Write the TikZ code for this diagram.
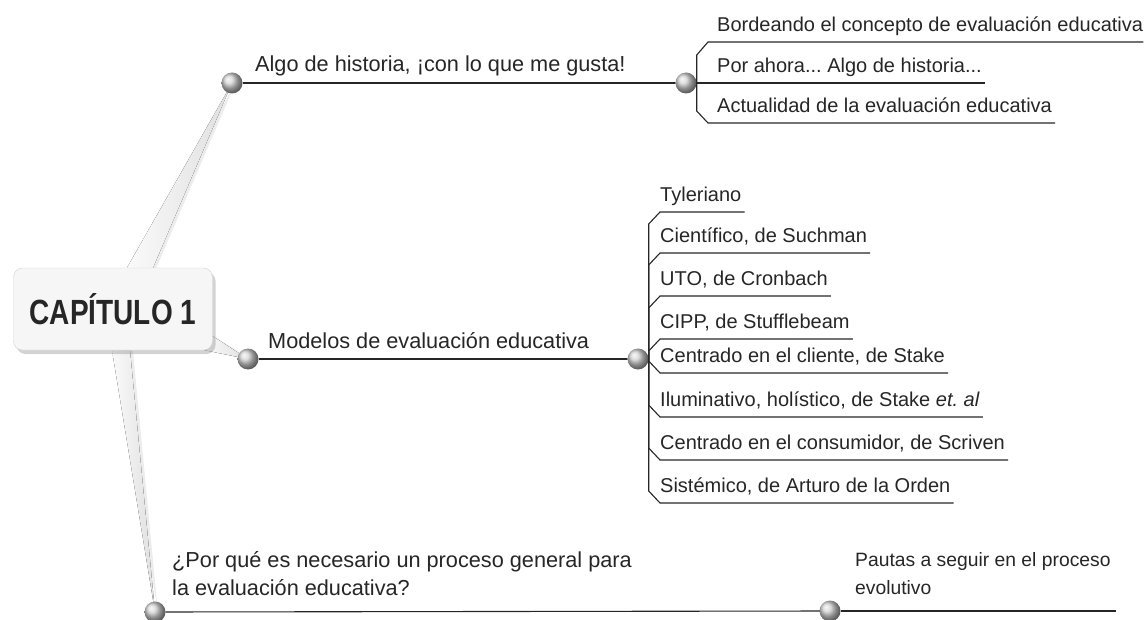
\documentclass[tikz,border=0pt]{standalone}
\usepackage{fontspec}
\setmainfont{Liberation Sans}
\newfontfamily\capfont[FakeStretch=0.8]{Liberation Sans}
\usetikzlibrary{calc,shadows,backgrounds}
\frenchspacing
\newcommand{\topicfont}{\fontsize{21.7}{27.5}\selectfont}
\newcommand{\leaffont}{\fontsize{20}{28}\selectfont}

\begin{document}
\begin{tikzpicture}[x=1pt,y=-1pt,
    ball/.style={circle, shading=ball, ball color=gray!35, minimum size=21pt, inner sep=0pt},
    topic/.style={font=\topicfont, text=black!85, anchor=base west, inner sep=0pt, align=left},
    leaf/.style={font=\leaffont, text=black!85, anchor=south west, inner xsep=0pt, inner ysep=0pt, text depth=10pt},
    stem/.style={left color=gray!4, right color=gray!25, drop shadow={opacity=0.15, shadow xshift=3pt, shadow yshift=-1pt}},
    link/.style={line width=1.1pt, black!85}]

    \useasboundingbox (0,0) rectangle (1147,620);

    \node[draw=gray!35, fill=gray!7, rounded corners=9pt, minimum width=199pt, minimum height=82pt,
          drop shadow={opacity=0.35, shadow xshift=3pt, shadow yshift=-4pt},
          text=black!85, font=\capfont\bfseries\fontsize{35}{40}\selectfont] (chap) at (113,309) {CAPÍTULO 1};

    \node[ball] (ballA) at (232,83) {};
    \node[ball] (ballB) at (686,83) {};
    \node[ball] (ballC) at (248,359) {};
    \node[ball] (ballD) at (638,359) {};
    \node[ball] (ballF) at (155,612) {};
    \node[ball] (ballE) at (830,611) {};

    \begin{scope}[on background layer]
        \fill[stem] ([xshift=14pt]chap.north) -- ([xshift=40pt]chap.north) -- (ballA.center) -- cycle;
        \fill[stem] ([yshift=14pt]chap.south east) -- ([xshift=-8pt]chap.south east) -- (ballC.center) -- cycle;
        \fill[stem] ([xshift=-1pt]chap.south) -- ([xshift=17pt]chap.south) -- (ballF.center) -- cycle;
    \end{scope}

    \draw[link] (ballA) -- (ballB);
    \draw[link] (ballC) -- (ballD);
    \draw[link] (ballF) -- (ballE);

    \node[topic] (tA) at (255,72) {Algo de historia, ¡con lo que me gusta!};
    \node[topic] (tC) at (268,348) {Modelos de evaluación educativa};
    \node[topic] (tF) at (172,595) {¿Por qué es necesario un proceso general para\\la evaluación educativa?};
    \node[topic, font=\fontsize{19.3}{28}\selectfont] (tE) at (855,594) {Pautas a seguir en el proceso\\evolutivo};
    \draw[link] (ballE) -- ([xshift=5pt]tE.east |- ballE.center);

    \node[leaf] (b1) at (717,42) {Bordeando el concepto de evaluación educativa};
    \node[leaf] (b2) at (717,83) {Por ahora... Algo de historia...};
    \node[leaf] (b3) at (717,123) {Actualidad de la evaluación educativa};
    \draw[link] (ballB.east) -- ++(0,-28) -- ([xshift=-9pt]b1.south west) -- (b1.south east);
    \draw[link] (ballB.east) -- ([xshift=3pt]b2.south east);
    \draw[link] (ballB.east) -- ++(0,28) -- ([xshift=-9pt]b3.south west) -- ([xshift=3pt]b3.south east);

    \foreach \u/\t [count=\i] in {212/Tyleriano, 253/{Científico, de Suchman}, 296/{UTO, de Cronbach}, 339/{CIPP, de Stufflebeam}} {
        \node[leaf] (m\i) at (660,\u) {\t};
        \draw[link] (ballD.east) -- ([yshift=-12pt]ballD.east |- m\i.south west) -- (m\i.south west) -- ([xshift=3pt]m\i.south east);
    }
    \foreach \u/\t [count=\i from 5] in {373/{Centrado en el cliente, de Stake}, 417/{Iluminativo, holístico, de Stake \textit{et. al}}, 460/{Centrado en el consumidor, de Scriven}, 503/{Sistémico, de Arturo de la Orden}} {
        \node[leaf] (m\i) at (660,\u) {\t};
        \draw[link] (ballD.east) -- ([yshift=12pt]ballD.east |- m\i.south west) -- (m\i.south west) -- ([xshift=3pt]m\i.south east);
    }

\end{tikzpicture}
\end{document}
